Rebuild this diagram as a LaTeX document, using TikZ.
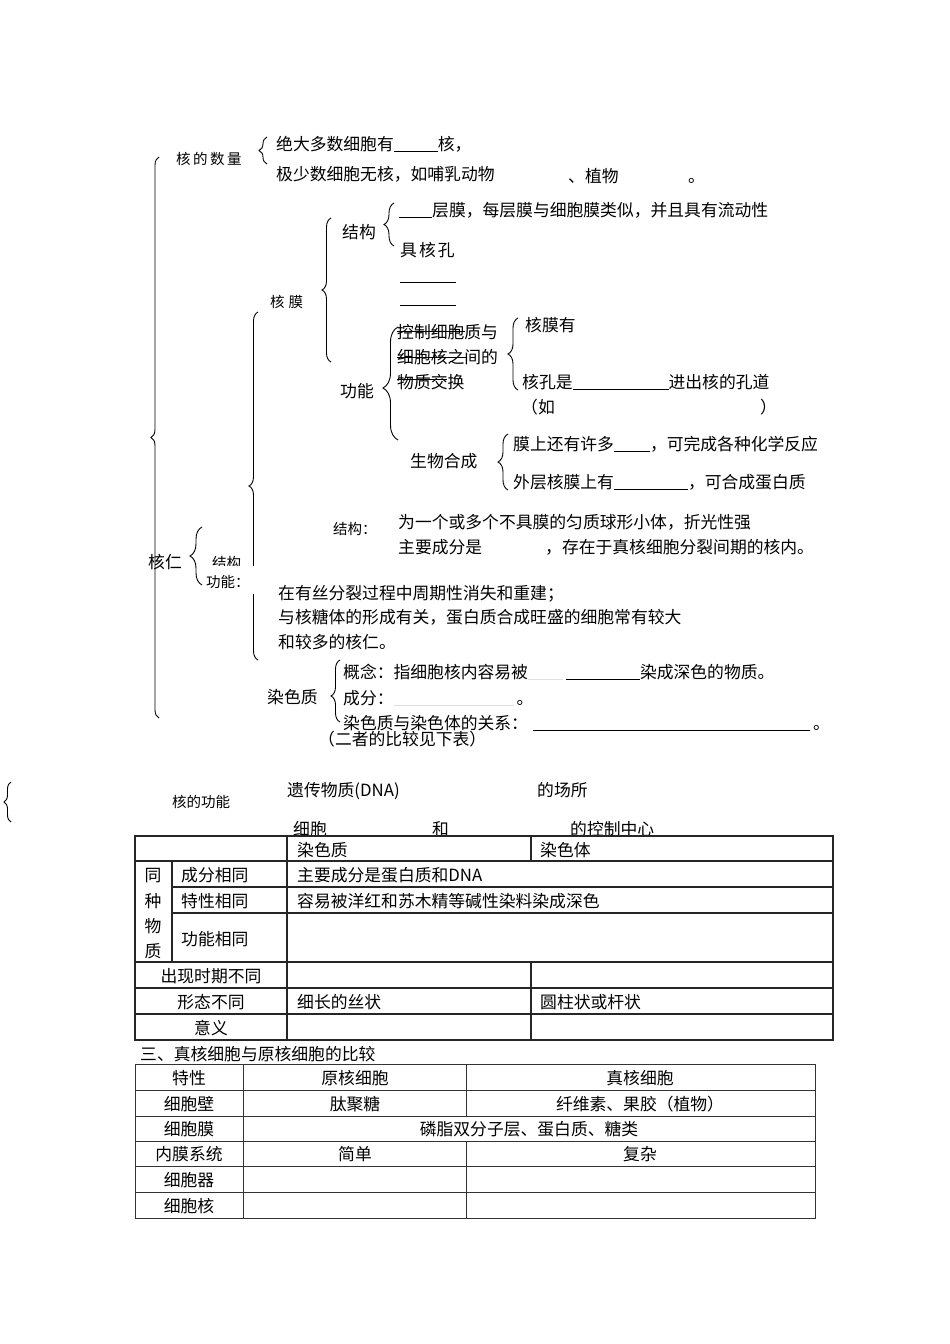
\documentclass[tikz,border=0pt]{standalone}
\usepackage{fontspec}
\setmainfont{Noto Sans CJK SC}
\usetikzlibrary{decorations.pathreplacing}
\newcommand{\blank}[1]{\rule[-1.5pt]{#1pt}{0.8pt}}
\newcommand{\faint}[1]{\textcolor{black!12}{\rule[-1.5pt]{#1pt}{0.8pt}}}
\tikzset{
  lbl/.style={anchor=west, inner sep=0pt, text height=14pt, text depth=0pt, font=\fontsize{16.8}{20}\selectfont},
  note/.style={lbl, font=\fontsize{14.5}{17}\selectfont},
  cell/.style={lbl, anchor=center},
  brc/.style={decorate, decoration={brace, amplitude=#1, aspect=0.5}, line width=0.9pt},
  brc/.default=8pt,
  strike/.style={line width=0.8pt},
  tbl/.style={line width=1.3pt, draw=black!85},
  tblb/.style={line width=1pt, draw=black!80},
}
\begin{document}
\begin{tikzpicture}[x=1pt, y=-1pt]
  \useasboundingbox[fill=white] (0,0) rectangle (950,1344);
  % outer brace
  \coordinate (bigbot) at (159,718);
  \coordinate (bigtop) at (159,157);
  \draw[brc=8pt] (bigbot) -- (bigtop);
  % number of nuclei
  \node[note] (num) at (176,157) {核\hspace{2.5pt}的\hspace{2.5pt}数\hspace{2.5pt}量};
  \coordinate (nb1) at (267,164);
  \coordinate (nb2) at (267,137);
  \draw[brc=8pt] (nb1) -- (nb2);
  \node[lbl] (num1) at (276,143) {绝大多数细胞有\blank{44}核，};
  \node[lbl] (num2) at (276,173) {极少数细胞无核，如哺乳动物};
  \node[lbl] (num3) at (568,175) {、植物};
  \node[lbl] (num4) at (688,175) {。};
  % nuclear envelope
  \node[note] (mem) at (270,300) {核\hspace{4pt}膜};
  \coordinate (mb1) at (331,362);
  \coordinate (mb2) at (331,218);
  \draw[brc=9pt] (mb1) -- (mb2);
  \node[lbl] (st) at (342,231) {结构};
  \coordinate (sb1) at (394,246);
  \coordinate (sb2) at (394,203);
  \draw[brc=10pt] (sb1) -- (sb2);
  \node[lbl] (st1) at (399,209) {\blank{33}层膜，每层膜与细胞膜类似，并且具有流动性};
  \node[lbl] (st2) at (400,249) {具\hspace{2pt}核\hspace{2pt}孔};
  \draw (400,282) -- (456,282);
  \draw (400,305) -- (456,305);
  \node[lbl] (fn) at (340,390) {功能};
  \coordinate (fb1) at (398,440);
  \coordinate (fb2) at (398,327);
  \draw[brc=15pt, decoration={aspect=0.46}] (fb1) -- (fb2);
  \node[lbl] (ctl1) at (397,331) {控制细胞质与};
  \node[lbl] (ctl2) at (397,356) {细胞核之间的};
  \node[lbl] (ctl3) at (397,381) {物质交换};
  \draw[strike] (ctl1.west) -- ++(68,0);
  \draw[strike] ([yshift=-1pt]ctl2.west) -- ++(70,0);
  \draw[strike] ([yshift=2pt]ctl3.west) -- ++(50,0);
  \coordinate (pb1) at (518,390);
  \coordinate (pb2) at (518,318);
  \draw[brc=10pt] (pb1) -- (pb2);
  \node[lbl] (pore1) at (525,324) {核膜有};
  \node[lbl] (pore2) at (522,381) {核孔是\blank{96}进出核的孔道};
  \node[lbl] (pore3) at (521,406) {（如};
  \node[lbl] (pore4) at (760,406) {）};
  \node[lbl] (syn) at (410,460) {生物合成};
  \coordinate (yb1) at (508,490);
  \coordinate (yb2) at (508,434);
  \draw[brc=10pt] (yb1) -- (yb2);
  \node[lbl] (syn1) at (513,443) {膜上还有许多\blank{36}，可完成各种化学反应};
  \node[lbl] (syn2) at (513,481) {外层核膜上有\blank{74}，可合成蛋白质};
  % nucleolus
  \coordinate (lb1) at (258,660);
  \coordinate (lb2) at (258,312);
  \draw[brc=9pt] (lb1) -- (lb2);
  \node[lbl] (nuc) at (148,561) {核仁};
  \coordinate (kb1) at (202,585);
  \coordinate (kb2) at (202,527);
  \draw[brc=12pt] (kb1) -- (kb2);
  \node[note] (nst) at (212,561) {结构};
  \node[note, fill=white, minimum width=58pt, minimum height=28pt, text width=54pt, inner xsep=0pt] (nfn) at (204,580) {功能：};
  \node[note] (nst2) at (333,527) {结构：};
  \node[lbl] (nst3) at (398,521) {为一个或多个不具膜的匀质球形小体，折光性强};
  \node[lbl] (nst4) at (398,546) {主要成分是};
  \node[lbl] (nst5) at (545,546) {，存在于真核细胞分裂间期的核内。};
  \node[lbl] (nf1) at (278,592) {在有丝分裂过程中周期性消失和重建；};
  \node[lbl] (nf2) at (278,616) {与核糖体的形成有关，蛋白质合成旺盛的细胞常有较大};
  \node[lbl] (nf3) at (278,641) {和较多的核仁。};
  % chromatin
  \node[lbl] (chr) at (267,696) {染色质};
  \coordinate (cb1) at (340,722);
  \coordinate (cb2) at (340,660);
  \draw[brc=9pt, decoration={aspect=0.42}] (cb1) -- (cb2);
  \node[lbl] (chr1) at (343,671) {概念：指细胞核内容易被\faint{35}\hspace{3pt}\blank{74}染成深色的物质。};
  \node[lbl] (chr2) at (343,697) {成分：\faint{120}\hspace{3pt}。};
  \node[lbl] (chr3) at (343,722) {染色质与染色体的关系：\hspace{5pt}\blank{277}\hspace{3pt}。};
  \node[lbl] (chr4) at (318,738) {（二者的比较见下表）};
  % function of the nucleus
  \coordinate (ub1) at (11,822);
  \coordinate (ub2) at (11,782);
  \draw[brc=7pt] (ub1) -- (ub2);
  \node[note] (fun) at (172,800) {核的功能};
  \node[lbl] (fun1) at (287,789) {遗传物质(DNA)};
  \node[lbl] (fun2) at (537,789) {的场所};
  \node[lbl] (fun3) at (293,828) {细胞};
  \node[lbl] (fun4) at (432,828) {和};
  \node[lbl] (fun5) at (570,828) {的控制中心};
  % table: chromatin vs chromosome
  \draw[tbl] (135,836) rectangle (833,1040);
  \foreach \y in {861,962,988,1014} \draw[tbl] (135,\y) -- (833,\y);
  \foreach \y in {887,913} \draw[tbl] (172,\y) -- (833,\y);
  \draw[tbl] (287,836) -- (287,1040);
  \draw[tbl] (172,861) -- (172,962);
  \draw[tbl] (531,836) -- (531,861) (531,962) -- (531,1040);
  \node[lbl] (ta1) at (297,849) {染色质};
  \node[lbl] (ta2) at (540,849) {染色体};
  \foreach \c/\y [count=\i] in {同/874,种/900,物/925,质/950}
    \node[cell] (tv\i) at (153,\y) {\c};
  \node[lbl] (tb1) at (181,874) {成分相同};
  \node[lbl] (tb2) at (181,900) {特性相同};
  \node[lbl] (tb3) at (181,938) {功能相同};
  \node[lbl] (tc1) at (297,874) {主要成分是蛋白质和DNA};
  \node[lbl] (tc2) at (297,900) {容易被洋红和苏木精等碱性染料染成深色};
  \node[cell] (td1) at (211,975) {出现时期不同};
  \node[cell] (td2) at (211,1001) {形态不同};
  \node[cell] (td3) at (211,1027) {意义};
  \node[lbl] (te1) at (297,1001) {细长的丝状};
  \node[lbl] (te2) at (540,1001) {圆柱状或杆状};
  % table: prokaryote vs eukaryote
  \node[lbl] (cmp) at (140,1053) {三、真核细胞与原核细胞的比较};
  \draw[tblb] (135,1064) rectangle (815,1218);
  \foreach \y in {1090,1116,1141,1166,1192} \draw[tblb] (135,\y) -- (815,\y);
  \draw[tblb] (243,1064) -- (243,1218);
  \draw[tblb] (466,1064) -- (466,1116) (466,1141) -- (466,1218);
  \foreach \t/\y [count=\i] in {特性/1077,细胞壁/1103,细胞膜/1128.5,内膜系统/1153.5,细胞器/1179,细胞核/1205}
    \node[cell] (tf\i) at (189,\y) {\t};
  \node[cell] (tg1) at (355,1077) {原核细胞};
  \node[cell] (tg2) at (640,1077) {真核细胞};
  \node[cell] (tg3) at (355,1103) {肽聚糖};
  \node[cell] (tg4) at (640,1103) {纤维素、果胶（植物）};
  \node[cell] (tg5) at (529,1128.5) {磷脂双分子层、蛋白质、糖类};
  \node[cell] (tg6) at (355,1153.5) {简单};
  \node[cell] (tg7) at (640,1153.5) {复杂};
\end{tikzpicture}
\end{document}
